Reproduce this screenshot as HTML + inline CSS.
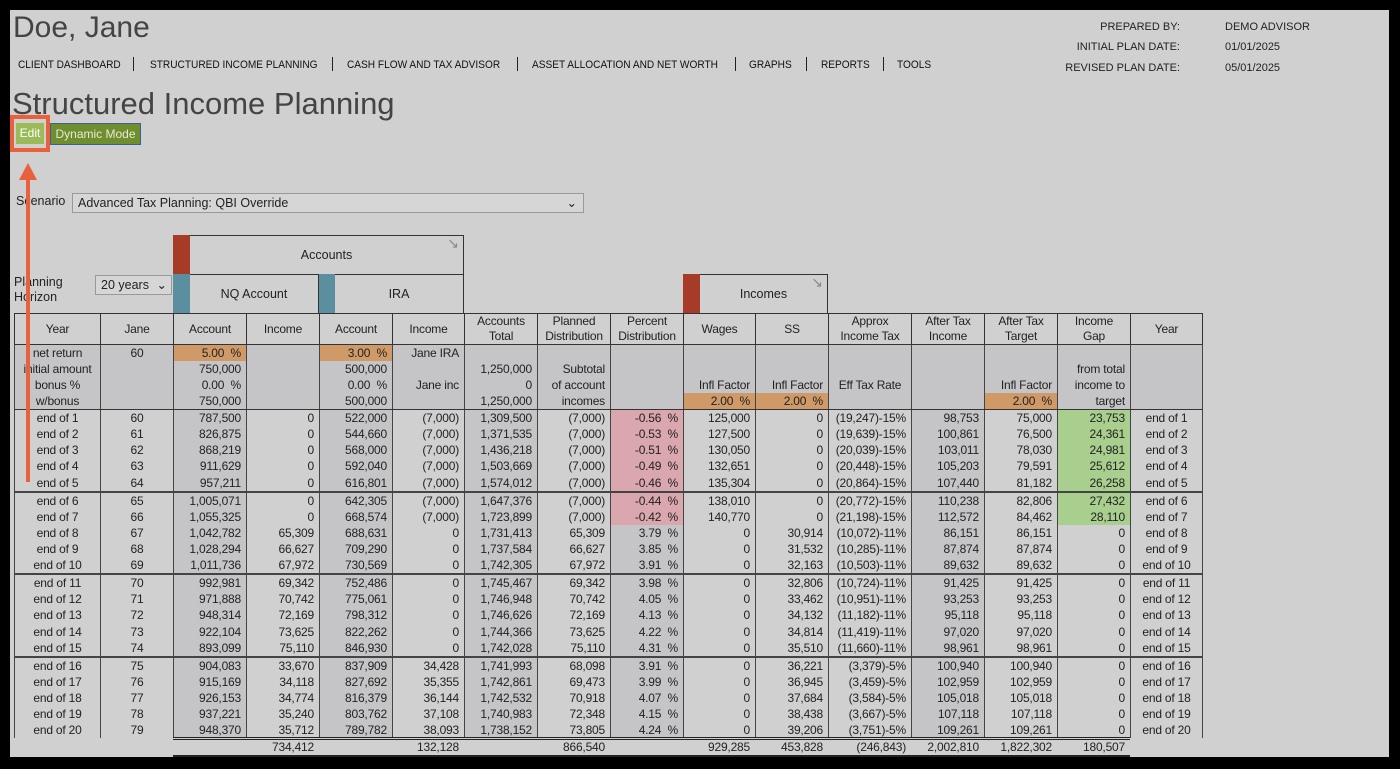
<!DOCTYPE html>
<html><head><meta charset="utf-8"><style>
*{box-sizing:border-box;margin:0;padding:0}
body{width:1400px;height:769px;background:#000;position:relative;overflow:hidden;font-family:"Liberation Sans",Arial,sans-serif;color:#222}
#pg{position:absolute;left:10px;top:10px;width:1379px;height:747px;background:#d0d0d0}
.a{position:absolute;white-space:nowrap}
.nav{font-size:11px;top:59px;color:#111;transform:scaleX(0.92);transform-origin:left}
.sep{position:absolute;top:57px;width:1px;height:14px;background:#222}
.rt{font-size:11px;color:#222}
table{border-collapse:collapse;table-layout:fixed;font-size:12px;letter-spacing:-0.2px}
#t{position:absolute;left:14px;top:313px;width:1188px}
#t td{border-left:1px solid #444;border-right:1px solid #444;padding:0 5px;text-align:right;height:16.2px;line-height:16px;white-space:nowrap}
#t tr.h td{height:30px;line-height:15px;text-align:center;border:1px solid #333;background:#d0d0d0}
#t tr.s td{height:64px;padding:0;vertical-align:top;background:#c5c5c7;border-bottom:1px solid #333}
#t tr.s td div{height:16px;line-height:16px;padding:0 5px}
#t tr.g td{border-top:2px solid #444}
#t td.c{text-align:center}
.o{background:#d09a68}
.pk{background:#d9a7ad!important}
.gr{background:#a8cf8e!important}
.box{position:absolute;border:1px solid #333;font-size:12.5px;text-align:center}
.red{position:absolute;background:#a63c28}
.teal{position:absolute;background:#5b8e9f}
#tot{position:absolute;left:173px;top:737px;width:957px;height:20px;border-top:3px double #222;border-bottom:2px solid #222;background:#d0d0d0}
#tot table td{text-align:right;padding:0 5px;font-size:12px;height:15px;line-height:15px}
.sel{position:absolute;border:1px solid #999;background:#d6d6d6;font-size:12.5px;padding-left:5px;line-height:18px}
</style></head><body>
<div id="pg"></div>
<div class="a" style="left:13px;top:11px;font-size:30px;color:#444">Doe, Jane</div>
<div class="a nav" style="left:18px">CLIENT DASHBOARD</div><div class="sep" style="left:133px"></div>
<div class="a nav" style="left:150px">STRUCTURED INCOME PLANNING</div><div class="sep" style="left:332px"></div>
<div class="a nav" style="left:347px">CASH FLOW AND TAX ADVISOR</div><div class="sep" style="left:517px"></div>
<div class="a nav" style="left:532px">ASSET ALLOCATION AND NET WORTH</div><div class="sep" style="left:735px"></div>
<div class="a nav" style="left:749px">GRAPHS</div><div class="sep" style="left:806px"></div>
<div class="a nav" style="left:821px">REPORTS</div><div class="sep" style="left:883px"></div>
<div class="a nav" style="left:897px">TOOLS</div>
<div class="a rt" style="right:220px;top:21px">PREPARED BY:</div><div class="a rt" style="left:1225px;top:21px">DEMO ADVISOR</div>
<div class="a rt" style="right:220px;top:41px">INITIAL PLAN DATE:</div><div class="a rt" style="left:1225px;top:41px">01/01/2025</div>
<div class="a rt" style="right:220px;top:62px">REVISED PLAN DATE:</div><div class="a rt" style="left:1225px;top:62px">05/01/2025</div>
<div class="a" style="left:12px;top:86px;font-size:31px;color:#444">Structured Income Planning</div>
<div class="a" style="left:16px;top:123px;width:28px;height:21px;background:#9bbb59;color:#fff;font-size:12px;text-align:center;line-height:21px">Edit</div>
<div class="a" style="left:50px;top:123px;width:91px;height:22px;background:#6f8f2e;border:1px solid #3a5fa0;color:#e8e8d8;font-size:12px;text-align:center;line-height:20px">Dynamic Mode</div>
<div class="a" style="left:16px;top:194px;font-size:12.5px">Scenario</div>
<div class="sel" style="left:72px;top:193px;width:512px;height:20px">Advanced Tax Planning: QBI Override<span style="position:absolute;right:6px;top:0">&#8964;</span></div>
<div class="a" style="left:14px;top:275px;font-size:12.5px;line-height:15px">Planning<br>Horizon</div>
<div class="sel" style="left:95px;top:275px;width:77px;height:20px">20 years<span style="position:absolute;right:4px;top:0">&#8964;</span></div>
<div class="box" style="left:173px;top:235px;width:291px;height:40px;line-height:38px;padding-left:16px">Accounts<span style="position:absolute;right:4px;top:-12px;color:#888;font-size:14px">&#8600;</span></div>
<div class="red" style="left:173px;top:235px;width:17px;height:39px"></div>
<div class="box" style="left:173px;top:274px;width:146px;height:40px;line-height:38px;padding-left:16px">NQ Account</div>
<div class="box" style="left:318px;top:274px;width:146px;height:40px;line-height:38px;padding-left:16px">IRA</div>
<div class="teal" style="left:173px;top:274px;width:17px;height:39px"></div>
<div class="teal" style="left:319px;top:274px;width:16px;height:39px"></div>
<div class="box" style="left:683px;top:274px;width:145px;height:40px;line-height:38px;padding-left:16px">Incomes<span style="position:absolute;right:4px;top:-12px;color:#888;font-size:14px">&#8600;</span></div>
<div class="red" style="left:683px;top:274px;width:17px;height:39px"></div>
<table id="t">
<colgroup><col style="width:86px"><col style="width:73px"><col style="width:73px;background:#c5c5c7"><col style="width:73px"><col style="width:73px;background:#c5c5c7"><col style="width:72px"><col style="width:73px;background:#c5c5c7"><col style="width:73px"><col style="width:73px;background:#c5c5c7"><col style="width:72px"><col style="width:73px"><col style="width:83px"><col style="width:73px;background:#c5c5c7"><col style="width:73px"><col style="width:73px"><col style="width:72px"></colgroup>
<tr class="h"><td>Year</td><td>Jane</td><td>Account</td><td>Income</td><td>Account</td><td>Income</td><td>Accounts<br>Total</td><td>Planned<br>Distribution</td><td>Percent<br>Distribution</td><td>Wages</td><td>SS</td><td>Approx<br>Income Tax</td><td>After Tax<br>Income</td><td>After Tax<br>Target</td><td>Income<br>Gap</td><td>Year</td></tr>
<tr class="s"><td style="text-align:center"><div>net return</div><div>initial amount</div><div>bonus %</div><div>w/bonus</div></td><td style="text-align:center"><div>60</div></td><td><div class="o">5.00&nbsp;&nbsp;%</div><div>750,000</div><div>0.00&nbsp;&nbsp;%</div><div>750,000</div></td><td></td><td><div class="o">3.00&nbsp;&nbsp;%</div><div>500,000</div><div>0.00&nbsp;&nbsp;%</div><div>500,000</div></td><td><div>Jane IRA</div><div></div><div>Jane inc</div></td><td><div></div><div>1,250,000</div><div>0</div><div>1,250,000</div></td><td><div></div><div>Subtotal</div><div>of account</div><div>incomes</div></td><td></td><td><div></div><div></div><div>Infl Factor</div><div class="o">2.00&nbsp;&nbsp;%</div></td><td><div></div><div></div><div>Infl Factor</div><div class="o">2.00&nbsp;&nbsp;%</div></td><td style="text-align:center"><div></div><div></div><div>Eff Tax Rate</div></td><td></td><td><div></div><div></div><div>Infl Factor</div><div class="o">2.00&nbsp;&nbsp;%</div></td><td><div></div><div>from total</div><div>income to</div><div>target</div></td><td></td></tr>
<tr><td class="c">end of 1</td><td class="c">60</td><td>787,500</td><td>0</td><td>522,000</td><td>(7,000)</td><td>1,309,500</td><td>(7,000)</td><td class="pk">-0.56&nbsp;&nbsp;%</td><td>125,000</td><td>0</td><td>(19,247)-15%</td><td>98,753</td><td>75,000</td><td class="gr">23,753</td><td class="c">end of 1</td></tr>
<tr><td class="c">end of 2</td><td class="c">61</td><td>826,875</td><td>0</td><td>544,660</td><td>(7,000)</td><td>1,371,535</td><td>(7,000)</td><td class="pk">-0.53&nbsp;&nbsp;%</td><td>127,500</td><td>0</td><td>(19,639)-15%</td><td>100,861</td><td>76,500</td><td class="gr">24,361</td><td class="c">end of 2</td></tr>
<tr><td class="c">end of 3</td><td class="c">62</td><td>868,219</td><td>0</td><td>568,000</td><td>(7,000)</td><td>1,436,218</td><td>(7,000)</td><td class="pk">-0.51&nbsp;&nbsp;%</td><td>130,050</td><td>0</td><td>(20,039)-15%</td><td>103,011</td><td>78,030</td><td class="gr">24,981</td><td class="c">end of 3</td></tr>
<tr><td class="c">end of 4</td><td class="c">63</td><td>911,629</td><td>0</td><td>592,040</td><td>(7,000)</td><td>1,503,669</td><td>(7,000)</td><td class="pk">-0.49&nbsp;&nbsp;%</td><td>132,651</td><td>0</td><td>(20,448)-15%</td><td>105,203</td><td>79,591</td><td class="gr">25,612</td><td class="c">end of 4</td></tr>
<tr><td class="c">end of 5</td><td class="c">64</td><td>957,211</td><td>0</td><td>616,801</td><td>(7,000)</td><td>1,574,012</td><td>(7,000)</td><td class="pk">-0.46&nbsp;&nbsp;%</td><td>135,304</td><td>0</td><td>(20,864)-15%</td><td>107,440</td><td>81,182</td><td class="gr">26,258</td><td class="c">end of 5</td></tr>
<tr class="g"><td class="c">end of 6</td><td class="c">65</td><td>1,005,071</td><td>0</td><td>642,305</td><td>(7,000)</td><td>1,647,376</td><td>(7,000)</td><td class="pk">-0.44&nbsp;&nbsp;%</td><td>138,010</td><td>0</td><td>(20,772)-15%</td><td>110,238</td><td>82,806</td><td class="gr">27,432</td><td class="c">end of 6</td></tr>
<tr><td class="c">end of 7</td><td class="c">66</td><td>1,055,325</td><td>0</td><td>668,574</td><td>(7,000)</td><td>1,723,899</td><td>(7,000)</td><td class="pk">-0.42&nbsp;&nbsp;%</td><td>140,770</td><td>0</td><td>(21,198)-15%</td><td>112,572</td><td>84,462</td><td class="gr">28,110</td><td class="c">end of 7</td></tr>
<tr><td class="c">end of 8</td><td class="c">67</td><td>1,042,782</td><td>65,309</td><td>688,631</td><td>0</td><td>1,731,413</td><td>65,309</td><td>3.79&nbsp;&nbsp;%</td><td>0</td><td>30,914</td><td>(10,072)-11%</td><td>86,151</td><td>86,151</td><td>0</td><td class="c">end of 8</td></tr>
<tr><td class="c">end of 9</td><td class="c">68</td><td>1,028,294</td><td>66,627</td><td>709,290</td><td>0</td><td>1,737,584</td><td>66,627</td><td>3.85&nbsp;&nbsp;%</td><td>0</td><td>31,532</td><td>(10,285)-11%</td><td>87,874</td><td>87,874</td><td>0</td><td class="c">end of 9</td></tr>
<tr><td class="c">end of 10</td><td class="c">69</td><td>1,011,736</td><td>67,972</td><td>730,569</td><td>0</td><td>1,742,305</td><td>67,972</td><td>3.91&nbsp;&nbsp;%</td><td>0</td><td>32,163</td><td>(10,503)-11%</td><td>89,632</td><td>89,632</td><td>0</td><td class="c">end of 10</td></tr>
<tr class="g"><td class="c">end of 11</td><td class="c">70</td><td>992,981</td><td>69,342</td><td>752,486</td><td>0</td><td>1,745,467</td><td>69,342</td><td>3.98&nbsp;&nbsp;%</td><td>0</td><td>32,806</td><td>(10,724)-11%</td><td>91,425</td><td>91,425</td><td>0</td><td class="c">end of 11</td></tr>
<tr><td class="c">end of 12</td><td class="c">71</td><td>971,888</td><td>70,742</td><td>775,061</td><td>0</td><td>1,746,948</td><td>70,742</td><td>4.05&nbsp;&nbsp;%</td><td>0</td><td>33,462</td><td>(10,951)-11%</td><td>93,253</td><td>93,253</td><td>0</td><td class="c">end of 12</td></tr>
<tr><td class="c">end of 13</td><td class="c">72</td><td>948,314</td><td>72,169</td><td>798,312</td><td>0</td><td>1,746,626</td><td>72,169</td><td>4.13&nbsp;&nbsp;%</td><td>0</td><td>34,132</td><td>(11,182)-11%</td><td>95,118</td><td>95,118</td><td>0</td><td class="c">end of 13</td></tr>
<tr><td class="c">end of 14</td><td class="c">73</td><td>922,104</td><td>73,625</td><td>822,262</td><td>0</td><td>1,744,366</td><td>73,625</td><td>4.22&nbsp;&nbsp;%</td><td>0</td><td>34,814</td><td>(11,419)-11%</td><td>97,020</td><td>97,020</td><td>0</td><td class="c">end of 14</td></tr>
<tr><td class="c">end of 15</td><td class="c">74</td><td>893,099</td><td>75,110</td><td>846,930</td><td>0</td><td>1,742,028</td><td>75,110</td><td>4.31&nbsp;&nbsp;%</td><td>0</td><td>35,510</td><td>(11,660)-11%</td><td>98,961</td><td>98,961</td><td>0</td><td class="c">end of 15</td></tr>
<tr class="g"><td class="c">end of 16</td><td class="c">75</td><td>904,083</td><td>33,670</td><td>837,909</td><td>34,428</td><td>1,741,993</td><td>68,098</td><td>3.91&nbsp;&nbsp;%</td><td>0</td><td>36,221</td><td>(3,379)-5%</td><td>100,940</td><td>100,940</td><td>0</td><td class="c">end of 16</td></tr>
<tr><td class="c">end of 17</td><td class="c">76</td><td>915,169</td><td>34,118</td><td>827,692</td><td>35,355</td><td>1,742,861</td><td>69,473</td><td>3.99&nbsp;&nbsp;%</td><td>0</td><td>36,945</td><td>(3,459)-5%</td><td>102,959</td><td>102,959</td><td>0</td><td class="c">end of 17</td></tr>
<tr><td class="c">end of 18</td><td class="c">77</td><td>926,153</td><td>34,774</td><td>816,379</td><td>36,144</td><td>1,742,532</td><td>70,918</td><td>4.07&nbsp;&nbsp;%</td><td>0</td><td>37,684</td><td>(3,584)-5%</td><td>105,018</td><td>105,018</td><td>0</td><td class="c">end of 18</td></tr>
<tr><td class="c">end of 19</td><td class="c">78</td><td>937,221</td><td>35,240</td><td>803,762</td><td>37,108</td><td>1,740,983</td><td>72,348</td><td>4.15&nbsp;&nbsp;%</td><td>0</td><td>38,438</td><td>(3,667)-5%</td><td>107,118</td><td>107,118</td><td>0</td><td class="c">end of 19</td></tr>
<tr><td class="c">end of 20</td><td class="c">79</td><td>948,370</td><td>35,712</td><td>789,782</td><td>38,093</td><td>1,738,152</td><td>73,805</td><td>4.24&nbsp;&nbsp;%</td><td>0</td><td>39,206</td><td>(3,751)-5%</td><td>109,261</td><td>109,261</td><td>0</td><td class="c">end of 20</td></tr>
</table>
<div id="tot"><table style="width:957px"><colgroup><col style="width:73px"><col style="width:73px"><col style="width:73px"><col style="width:72px"><col style="width:73px"><col style="width:73px"><col style="width:73px"><col style="width:72px"><col style="width:73px"><col style="width:83px"><col style="width:73px"><col style="width:73px"><col style="width:73px"></colgroup>
<tr><td></td><td>734,412</td><td></td><td>132,128</td><td></td><td>866,540</td><td></td><td>929,285</td><td>453,828</td><td>(246,843)</td><td>2,002,810</td><td>1,822,302</td><td>180,507</td></tr></table></div>
<svg class="a" style="left:0;top:0" width="1400" height="769"><rect x="12" y="117" width="36" height="33" fill="none" stroke="#e8603c" stroke-width="4"/><rect x="26" y="176" width="4" height="306" fill="#e8603c"/><polygon points="28,163 19,180 37,180" fill="#e8603c"/></svg>
</body></html>
